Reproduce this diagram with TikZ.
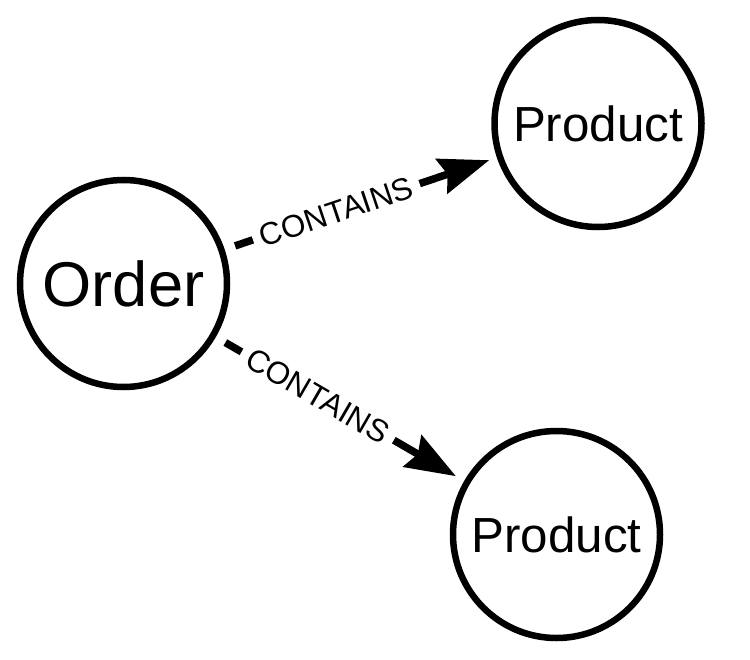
\documentclass[tikz,border=0pt]{standalone}
\usepackage{fontspec}
\setmainfont{Liberation Sans}
\usetikzlibrary{arrows.meta}
\tikzset{
    >={Stealth[length=50bp,width=36bp,inset=6bp]},
    entity/.append style={circle,draw=black,line width=6.5bp,minimum size=207bp,inner sep=0pt},
    rel/.append style={sloped,pos=0.41,fill=white,inner sep=8bp,font=\fontsize{31.5}{34}\selectfont},
    every edge/.append style={line width=7.5bp},
}
\begin{document}
\begin{tikzpicture}[x=1bp,y=-1bp]

           \useasboundingbox (0,0) rectangle (750,660);

           \node[entity,font=\fontsize{63.5}{70}\selectfont] (order) at (123.5, 283.5) {Order};
           \node[entity,font=\fontsize{49.5}{56}\selectfont] (prodA) at (598, 123.5) {Product};
           \node[entity,font=\fontsize{49.5}{56}\selectfont] (prodB) at (556.5, 534.5) {Product};

           \path (order) edge[->,shorten <=11bp,shorten >=8bp] node[rel] {CONTAINS} (prodA)
                 (order) edge[->,shorten <=11bp,shorten >=9.5bp] node[rel] {CONTAINS} (prodB);

       \end{tikzpicture}
\end{document}
